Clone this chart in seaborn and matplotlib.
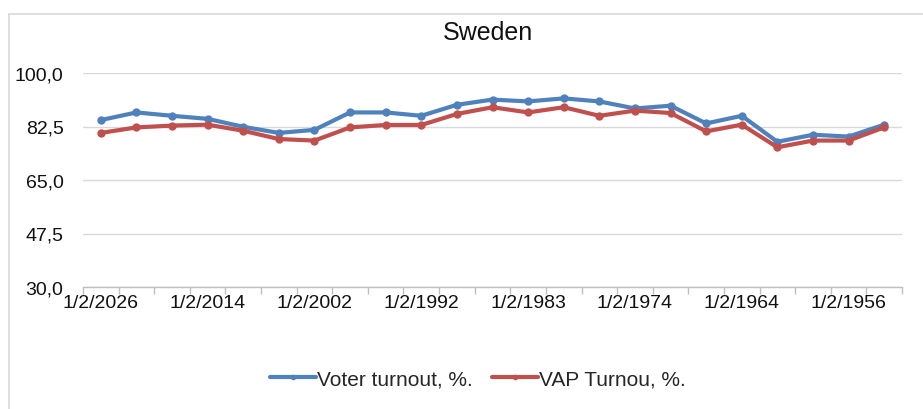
import numpy as np
import pandas as pd
import seaborn as sns
import matplotlib.pyplot as plt
from matplotlib.lines import Line2D
from matplotlib.ticker import FixedLocator, FuncFormatter

# election dates, newest first (only every third one is labelled)
dates = ["1/2/2026", "1/2/2022", "1/2/2018", "1/2/2014", "1/2/2010", "1/2/2006",
         "1/2/2002", "1/2/1998", "1/2/1995", "1/2/1992", "1/2/1989", "1/2/1986",
         "1/2/1983", "1/2/1980", "1/2/1977", "1/2/1974", "1/2/1971", "1/2/1968",
         "1/2/1964", "1/2/1961", "1/2/1958", "1/2/1956", "1/2/1952"]

voter_turnout = [84.6, 87.1, 86.0, 85.0, 82.4, 80.4, 81.4, 87.1, 87.1, 86.0, 89.6, 91.3,
                 90.7, 91.7, 90.7, 88.4, 89.3, 83.5, 86.0, 77.5, 79.8, 79.2, 83.1]
vap_turnout = [80.4, 82.2, 82.8, 83.1, 81.1, 78.4, 77.9, 82.2, 83.0, 83.0, 86.6, 88.8,
               87.1, 88.8, 86.0, 87.7, 86.9, 80.9, 83.1, 75.7, 77.9, 77.9, 82.2]

series_names = ["Voter turnout, %.", "VAP Turnou, %."]
colors = ["#4F81BD", "#C0504D"]

df = pd.DataFrame({
    "pos": list(range(len(dates))) * 2,
    "value": voter_turnout + vap_turnout,
    "series": [series_names[0]] * len(dates) + [series_names[1]] * len(dates),
})

sns.set_style("white")
plt.rcParams["font.family"] = ["Liberation Sans", "DejaVu Sans"]

fig = plt.figure(figsize=(9.23, 4.10), dpi=100)
ax = fig.add_axes([83 / 923, 1 - 288 / 410, (902 - 83) / 923, (288 - 74) / 410])

sns.lineplot(data=df, x="pos", y="value", hue="series", palette=colors,
             marker="o", markersize=6, markeredgewidth=0, linewidth=3.0,
             ax=ax, legend=False)

ax.set_xlim(-0.5, len(dates) - 0.5)
ax.set_ylim(30, 100)
ax.set_yticks([30, 47.5, 65, 82.5, 100])
ax.yaxis.set_major_formatter(FuncFormatter(lambda v, p: f"{v:.1f}".replace(".", ",")))
ax.set_xticks(range(0, len(dates), 3))
ax.set_xticklabels(dates[::3])
ax.xaxis.set_minor_locator(FixedLocator(np.arange(-0.5, len(dates), 1)))
ax.tick_params(axis="x", which="major", length=0, pad=5, labelsize=14, colors="#111111")
ax.tick_params(axis="x", which="minor", length=5, width=1, color="#BFBFBF", bottom=True)
ax.tick_params(axis="y", length=0, pad=14, labelsize=14, colors="#111111")
ax.set_xlabel("")
ax.set_ylabel("")
ax.grid(axis="y", color="#D9D9D9", linewidth=1)
ax.set_axisbelow(True)
for s in ["top", "right", "left"]:
    ax.spines[s].set_visible(False)
ax.spines["bottom"].set_color("#BFBFBF")
ax.spines["bottom"].set_linewidth(1)

fig.text(488 / 923, 1 - 33 / 410, "Sweden", ha="center", va="center",
         fontsize=18, color="#111111")

handles = [Line2D([], [], color=c, linewidth=3.0, marker="o", markersize=3) for c in colors]
fig.legend(handles, series_names, loc="center", bbox_to_anchor=(478 / 923, 1 - 380 / 410),
           ncol=2, frameon=False, fontsize=15, handlelength=2.2, handletextpad=0.05,
           columnspacing=0.9, borderpad=0)

# chart area border
fig.add_artist(Line2D([9 / 923, 1], [1 - 15 / 410] * 2, color="#D9D9D9", linewidth=1.2))
fig.add_artist(Line2D([9 / 923] * 2, [0, 1 - 15 / 410], color="#D9D9D9", linewidth=1.2))

fig.savefig("out.png", dpi=100)
